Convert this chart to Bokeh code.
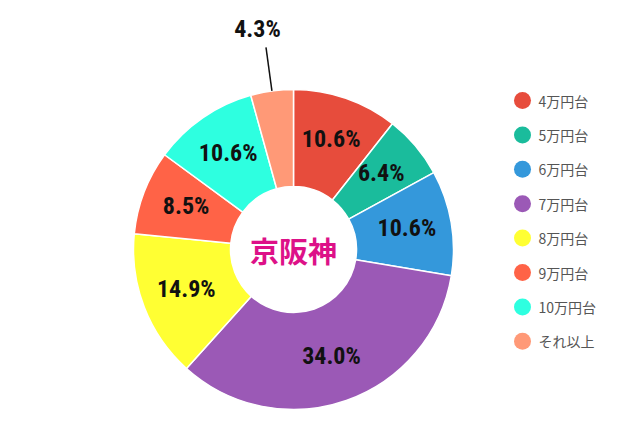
import numpy as np
from bokeh.plotting import figure
from bokeh.models import Range1d, ColumnDataSource
from bokeh.core.properties import value
from bokeh.embed import file_html
from bokeh.resources import INLINE

categories = ["4万円台", "5万円台", "6万円台", "7万円台", "8万円台", "9万円台", "10万円台", "それ以上"]
values = [10.6, 6.4, 10.6, 34.0, 14.9, 8.5, 10.6, 4.3]
colors = ["#E74C3C", "#1ABC9C", "#3498DB", "#9B59B6", "#FFFF33", "#FF6347", "#2EFFE0", "#FF9977"]
center_title = "京阪神"

W, H = 624, 410
p = figure(width=W, height=H, output_backend="svg", toolbar_location=None,
           x_range=Range1d(0, W), y_range=Range1d(0, H), min_border=0)
p.axis.visible = False
p.grid.visible = False
p.outline_line_color = None
p.background_fill_color = "white"
p.border_fill_color = "white"

cx, cy = 293, 161
r_out, r_in = 160, 63

vals = np.array(values, dtype=float)
frac = vals / vals.sum()
cum = np.concatenate([[0], np.cumsum(frac)])
start = np.pi / 2 - 2 * np.pi * cum[:-1]
end = np.pi / 2 - 2 * np.pi * cum[1:]
mid = (start + end) / 2

src = ColumnDataSource(dict(start=start, end=end, color=colors))
p.annular_wedge(x=cx, y=cy, inner_radius=r_in, outer_radius=r_out,
                start_angle="start", end_angle="end", direction="clock",
                fill_color="color", line_color="white", line_width=1.5, source=src)

label_font = value("Roboto Condensed, Liberation Sans Narrow, Roboto, sans-serif")
inside = vals >= 5
lr = 115
lx = cx + lr * np.cos(mid[inside])
ly = cy + lr * np.sin(mid[inside]) + 2
ltxt = [f"{v:.1f}%" for v in vals[inside]]
p.text(x=lx, y=ly, text=ltxt, text_font=label_font, text_font_size="24px",
       text_font_style="bold", text_align="center", text_baseline="middle",
       text_color="#111111")

# outside labels with leader lines
out_idx = np.where(~inside)[0]
for i in out_idx:
    a = mid[i]
    x0, y0 = cx + r_out * np.cos(a), cy + r_out * np.sin(a)
    x1, y1 = cx + 204 * np.cos(a), cy + 204 * np.sin(a)
    p.line([x0, x1], [y0, y1], line_color="#111111", line_width=1.5)
    p.text(x=[cx + 223 * np.cos(a)], y=[cy + 223 * np.sin(a)], text=[f"{vals[i]:.1f}%"],
           text_font=label_font, text_font_size="24px", text_font_style="bold",
           text_align="center", text_baseline="middle", text_color="#111111", x_offset=-6)

# center title
p.text(x=[cx], y=[cy], text=[center_title], text_font=value("Noto Sans CJK JP"),
       text_font_size="29px", text_font_style="bold", text_align="center",
       text_baseline="middle", text_color="#DD1188")

# legend
idx = np.arange(len(categories))
leg_x = 522
leg_y = 310 - idx * 34.4
p.scatter(x=[leg_x] * len(categories), y=leg_y, size=17, marker="circle",
          fill_color=colors, line_color=None)
p.text(x=[leg_x + 16] * len(categories), y=leg_y, text=categories,
       text_font=value("Noto Sans CJK JP"), text_font_size="14px",
       text_align="left", text_baseline="middle", text_color="#555555")

open("out.html", "w").write(file_html(p, INLINE))
